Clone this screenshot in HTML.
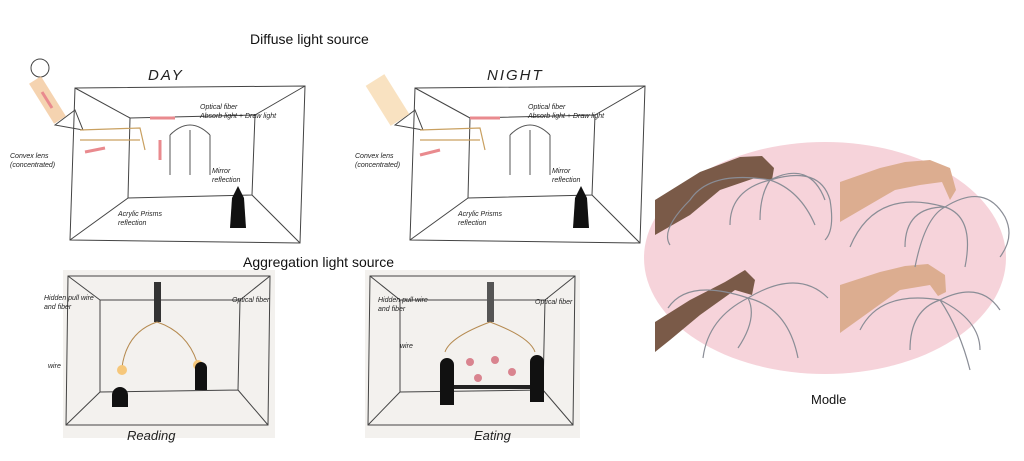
<!DOCTYPE html>
<html><head><meta charset="utf-8"><style>
html,body{margin:0;padding:0;background:#fff;}
svg{display:block}
.t{font-family:"Liberation Sans",sans-serif;fill:#111}
.h{font-family:"Liberation Sans",sans-serif;font-style:italic;fill:#222}
</style></head><body>
<svg width="1024" height="461" viewBox="0 0 1024 461" xmlns="http://www.w3.org/2000/svg">
<rect width="1024" height="461" fill="#fff"/>
<text class="t" x="250" y="44" font-size="14">Diffuse light source</text>
<text class="t" x="243" y="267" font-size="14">Aggregation light source</text>
<text class="h" x="148" y="80" font-size="15" letter-spacing="2">DAY</text>
<text class="h" x="487" y="80" font-size="15" letter-spacing="2">NIGHT</text>

<g stroke="#444" fill="none" stroke-width="1">
<path d="M75 88 L305 86 L300 243 L70 240 Z"/>
<path d="M130 118 L255 115 L252 195 L128 198 Z"/>
<path d="M75 88 L130 118 M305 86 L255 115 M300 243 L252 195 M70 240 L128 198"/>
<path d="M415 88 L645 86 L640 243 L410 240 Z"/>
<path d="M470 118 L595 115 L592 195 L468 198 Z"/>
<path d="M415 88 L470 118 M645 86 L595 115 M640 243 L592 195 M410 240 L468 198"/>
<circle cx="40" cy="68" r="9"/>
<path d="M55 125 l20 -15 l8 20 z M395 125 l20 -15 l8 20 z"/>
</g>
<path d="M35 80 L60 120" stroke="#f2c190" stroke-width="14" opacity=".7"/>
<path d="M375 80 L400 120" stroke="#f7d7a8" stroke-width="22" opacity=".7"/>
<g stroke="#e98a8e" stroke-width="3" fill="none">
<path d="M42 92 L52 108 M150 118 L175 118 M85 152 L105 148 M160 140 L160 160"/>
<path d="M440 150 L420 155 M500 118 L470 118"/>
</g>
<g stroke="#c9a060" stroke-width="1.2" fill="none">
<path d="M80 130 L140 128 L145 150 M80 140 L140 140"/>
<path d="M420 130 L480 128 L485 150 M420 140 L480 140"/>
</g>
<g stroke="#555" fill="none"><path d="M170 135 q20 -20 40 0 M170 135 v40 M190 130 v45 M210 135 v40"/><path d="M510 135 q20 -20 40 0 M510 135 v40 M530 130 v45 M550 135 v40"/></g>
<path d="M232 198 l6 -12 l6 12 l2 30 h-16 z" fill="#111"/>
<path d="M575 198 l6 -12 l6 12 l2 30 h-16 z" fill="#111"/>
<g class="h" font-size="7">
<text x="10" y="158">Convex lens</text><text x="10" y="167">(concentrated)</text>
<text x="200" y="109">Optical fiber</text><text x="200" y="118">Absorb light + Draw light</text>
<text x="212" y="173">Mirror</text><text x="212" y="182">reflection</text>
<text x="118" y="216">Acrylic Prisms</text><text x="118" y="225">reflection</text>
<text x="355" y="158">Convex lens</text><text x="355" y="167">(concentrated)</text>
<text x="528" y="109">Optical fiber</text><text x="528" y="118">Absorb light + Draw light</text>
<text x="552" y="173">Mirror</text><text x="552" y="182">reflection</text>
<text x="458" y="216">Acrylic Prisms</text><text x="458" y="225">reflection</text>
</g>

<rect x="63" y="270" width="212" height="168" fill="#f3f1ee"/>
<rect x="365" y="270" width="215" height="168" fill="#f3f1ee"/>
<g stroke="#444" fill="none">
<path d="M68 276 L270 276 L268 425 L66 425 Z M100 300 L240 300 L238 390 L100 392 Z M68 276 L100 300 M270 276 L240 300 M268 425 L238 390 M66 425 L100 392"/>
<path d="M370 276 L575 276 L573 425 L368 425 Z M400 300 L545 300 L543 390 L400 392 Z M370 276 L400 300 M575 276 L545 300 M573 425 L543 390 M368 425 L400 392"/>
</g>
<rect x="154" y="282" width="7" height="40" fill="#333"/>
<rect x="487" y="282" width="7" height="40" fill="#555"/>
<path d="M157 322 q-30 10 -35 45 M157 322 q30 10 40 40" stroke="#b58a50" fill="none"/>
<circle cx="122" cy="370" r="5" fill="#f6c77a"/><circle cx="198" cy="365" r="5" fill="#f6c77a"/>
<path d="M490 322 q-40 15 -45 30 M490 322 q40 15 45 30" stroke="#b58a50" fill="none"/>
<rect x="448" y="385" width="90" height="4" fill="#222"/>
<path d="M112 395 a8 8 0 1 1 16 0 v12 h-16 z M195 368 a6 6 0 1 1 12 0 v22 h-12z M440 365 a7 7 0 1 1 14 0 v40 h-14z M530 362 a7 7 0 1 1 14 0 v40 h-14z" fill="#111"/>
<g fill="#d9848f"><circle cx="470" cy="362" r="4"/><circle cx="495" cy="360" r="4"/><circle cx="512" cy="372" r="4"/><circle cx="478" cy="378" r="4"/></g>
<g class="h" font-size="7">
<text x="44" y="300">Hidden pull wire</text><text x="44" y="309">and fiber</text>
<text x="232" y="302">Optical fiber</text><text x="48" y="368">wire</text>
<text x="378" y="302">Hidden pull wire</text><text x="378" y="311">and fiber</text>
<text x="535" y="304">Optical fiber</text><text x="400" y="348">wire</text>
</g>
<text class="h" x="127" y="440" font-size="13">Reading</text>
<text class="h" x="474" y="440" font-size="13">Eating</text>

<ellipse cx="825" cy="258" rx="181" ry="116" fill="#f6d3da"/>
<g fill="#7a5a48">
<path d="M655 200 L700 172 L740 157 L762 156 L774 168 L772 180 L755 178 L720 190 L690 215 L655 235 Z"/>
<path d="M655 322 L690 300 L725 282 L745 270 L755 280 L752 295 L735 290 L700 315 L670 340 L655 352 Z"/>
</g>
<g fill="#dcad90">
<path d="M840 182 L880 168 L905 162 L930 160 L950 168 L956 190 L950 200 L942 182 L920 185 L895 190 L840 222 Z"/>
<path d="M840 285 L880 272 L905 266 L928 264 L945 275 L946 292 L938 296 L930 285 L900 290 L840 333 Z"/>
</g>
<g stroke="#8a8d96" fill="none" stroke-width="1.2">
<path d="M770 180 q-60 -10 -80 20 q-30 30 -20 45 M770 180 q-40 10 -40 45 M770 180 q40 -20 55 20 M770 180 q30 10 45 45 M770 180 q50 -15 60 20 q5 30 -5 40 M770 180 q-10 15 -10 40"/>
<path d="M945 207 q-70 -20 -95 40 M945 207 q-40 0 -40 40 M945 207 q40 -25 60 10 q10 20 -5 40 M945 207 q30 10 20 60 M945 207 q-20 10 -30 60"/>
<path d="M748 298 q-60 -20 -80 10 M748 298 q-40 20 -45 60 M748 298 q50 -30 80 0 M748 298 q40 10 50 60 M748 298 q10 20 -10 50"/>
<path d="M940 300 q-60 -10 -80 30 M940 300 q-30 10 -30 50 M940 300 q40 -20 60 10 M940 300 q40 20 40 50 M940 300 q20 30 30 70"/>
</g>
<text class="t" x="811" y="404" font-size="13">Modle</text>
</svg>
</body></html>
